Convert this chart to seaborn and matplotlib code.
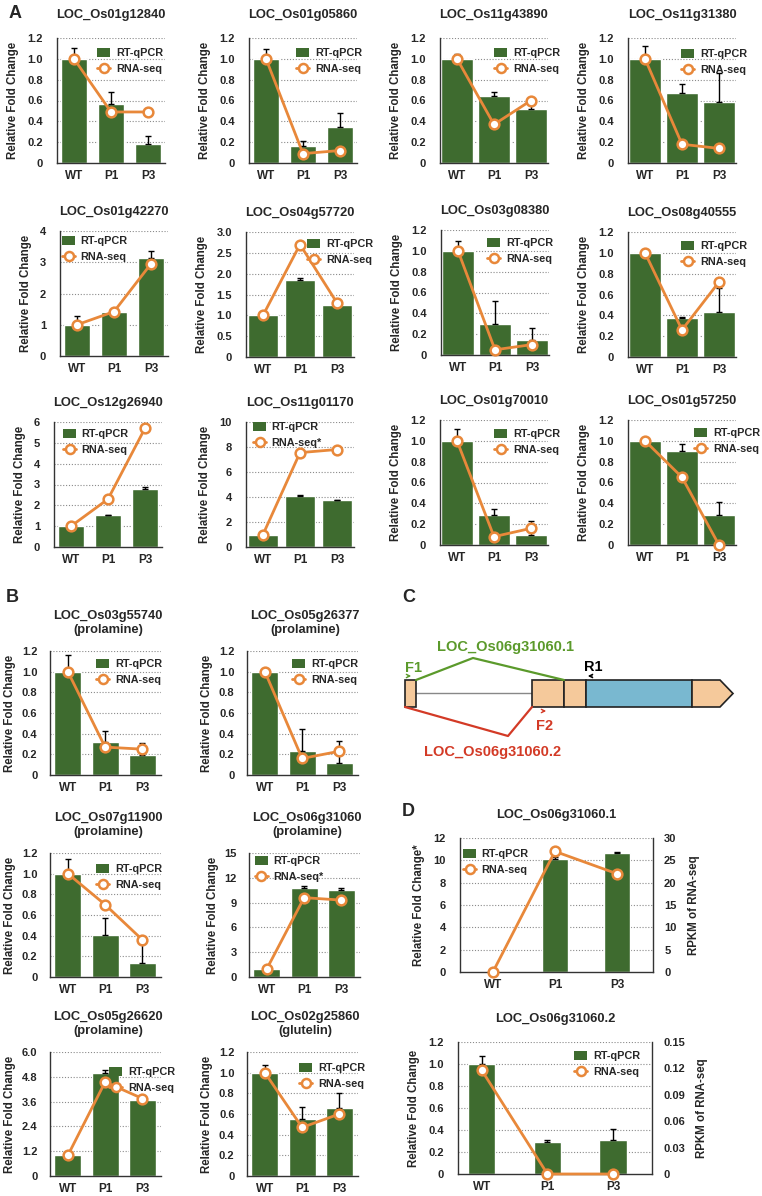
import numpy as np
import pandas as pd
import matplotlib
matplotlib.use('Agg')
import matplotlib.pyplot as plt
from matplotlib.patches import Patch, Rectangle, Polygon
from matplotlib.lines import Line2D
import seaborn as sns

sns.set_theme(style='white')
plt.rcParams['font.family'] = ['Liberation Sans', 'DejaVu Sans']
plt.rcParams['font.weight'] = 'bold'
plt.rcParams['axes.labelweight'] = 'bold'

# Data
# ======================================================================================
lines = ['WT', 'P1', 'P3']

titles_A = ['LOC_Os01g12840', 'LOC_Os01g05860', 'LOC_Os11g43890', 'LOC_Os11g31380',
            'LOC_Os01g42270', 'LOC_Os04g57720', 'LOC_Os03g08380', 'LOC_Os08g40555',
            'LOC_Os12g26940', 'LOC_Os11g01170', 'LOC_Os01g70010', 'LOC_Os01g57250']
qpcr_A = [[1.0, 0.57, 0.18], [1.0, 0.16, 0.35], [1.0, 0.64, 0.52], [1.0, 0.67, 0.59],
          [1.0, 1.42, 3.15], [1.0, 1.85, 1.25], [1.0, 0.30, 0.14], [1.0, 0.37, 0.43],
          [1.0, 1.52, 2.80], [1.0, 4.10, 3.75], [1.0, 0.29, 0.10], [1.0, 0.90, 0.29]]
err_A = [[0.10, 0.11, 0.08], [0.09, 0.05, 0.13], [0.05, 0.04, 0.05], [0.12, 0.09, 0.27],
         [0.28, 0.10, 0.20], [0.07, 0.05, 0.05], [0.09, 0.22, 0.12], [0.00, 0.01, 0.23],
         [0.03, 0.04, 0.08], [0.05, 0.07, 0.02], [0.11, 0.06, 0.13], [0.01, 0.07, 0.12]]
rnaseq_A = [[1.0, 0.49, 0.49], [1.0, 0.09, 0.12], [1.0, 0.37, 0.60], [1.0, 0.18, 0.14],
            [1.0, 1.42, 2.95], [1.0, 2.70, 1.30], [1.0, 0.05, 0.10], [1.0, 0.26, 0.72],
            [1.0, 2.30, 5.70], [1.0, 7.55, 7.80], [1.0, 0.08, 0.16], [1.0, 0.65, 0.00]]
yaxis_A = [(1.2, 0.2, 1), (1.2, 0.2, 1), (1.2, 0.2, 1), (1.2, 0.2, 1),
           (4, 1, 0), (3.0, 0.5, 1), (1.2, 0.2, 1), (1.2, 0.2, 1),
           (6, 1, 0), (10, 2, 0), (1.2, 0.2, 1), (1.2, 0.2, 1)]
rnalabel_A = ['RNA-seq'] * 9 + ['RNA-seq*', 'RNA-seq', 'RNA-seq']

titles_B = ['LOC_Os03g55740\n(prolamine)', 'LOC_Os05g26377\n(prolamine)',
            'LOC_Os07g11900\n(prolamine)', 'LOC_Os06g31060\n(prolamine)',
            'LOC_Os05g26620\n(prolamine)', 'LOC_Os02g25860\n(glutelin)']
qpcr_B = [[1.0, 0.32, 0.19], [1.0, 0.23, 0.12], [1.0, 0.41, 0.14],
          [1.0, 10.8, 10.5], [1.0, 5.0, 3.7], [1.0, 0.55, 0.66]]
err_B = [[0.16, 0.11, 0.12], [0.01, 0.22, 0.21], [0.14, 0.16, 0.25],
         [0.3, 0.25, 0.3], [0.08, 0.12, 0.05], [0.07, 0.12, 0.14]]
rnaseq_B = [[1.0, 0.27, 0.25], [1.0, 0.16, 0.23], [1.0, 0.70, 0.36],
            [1.0, 9.6, 9.3], [1.0, 4.55, 3.75], [1.0, 0.47, 0.60]]
yaxis_B = [(1.2, 0.2, 1), (1.2, 0.2, 1), (1.2, 0.2, 1), (15, 3, 0), (6.0, 1.2, 1), (1.2, 0.2, 1)]
rnalabel_B = ['RNA-seq', 'RNA-seq', 'RNA-seq', 'RNA-seq*', 'RNA-seq', 'RNA-seq']

titles_D = ['LOC_Os06g31060.1', 'LOC_Os06g31060.2']
qpcr_D = [[0.0, 10.1, 10.65], [1.0, 0.29, 0.31]]
err_D = [[0.0, 0.2, 0.1], [0.07, 0.02, 0.10]]
rpkm_D = [[0.0, 27.0, 22.0], [0.118, 0.0, 0.0]]
yaxis_D = [(12, 2, 0), (1.2, 0.2, 1)]
y2axis_D = [(30, 5, 0), (0.15, 0.03, 2)]
ylabel_D = ['Relative Fold Change*', 'Relative Fold Change']

# Layout (pixels: left, top, right, bottom) and legend anchors
# ======================================================================================
W, H = 762, 1196
GREEN = '#3e6b2f'
ORANGE = '#e8883a'
GRID = '#8a8a8a'

box_A = [(57, 38), (249, 38), (440, 38), (628, 38),
         (60, 231), (246, 232), (441, 230), (628, 232),
         (54, 422), (246, 422), (440, 420), (628, 420)]
barw_A = [0.7, 0.7, 0.86, 0.86, 0.7, 0.8, 0.86, 0.86, 0.7, 0.8, 0.86, 0.86]
title_off_A = [23] * 4 + [19] * 8
leg_A = [('upper right', 163, 52), ('upper right', 362, 52), ('upper right', 560, 52),
         ('upper right', 747, 53), ('upper left', 62, 240), ('upper right', 373, 243),
         ('upper right', 553, 242), ('upper right', 747, 245), ('upper left', 63, 433),
         ('upper left', 253, 426), ('upper right', 560, 433), ('upper right', 760, 432)]

box_B = [(50, 651), (247, 651), (50, 853), (249, 853), (50, 1052), (247, 1052)]
leg_B = [('upper right', 162, 663), ('upper right', 358, 663), ('upper right', 162, 868),
         ('upper left', 255, 860), ('upper right', 175, 1071), ('upper right', 365, 1067)]

box_D = [(460, 838, 653, 972), (458, 1042, 652, 1174)]
xlim_D = [(-0.53, 2.58), (-0.36, 2.59)]
leg_D = [('upper left', 463, 853), ('upper right', 640, 1055)]

fig = plt.figure(figsize=(W / 100, H / 100), dpi=100)


def px_axes(left, top, right, bottom):
    return fig.add_axes([left / W, 1 - bottom / H, (right - left) / W, (bottom - top) / H])


def fig_text(x, y, s, **kw):
    return fig.text(x / W, 1 - y / H, s, **kw)


def tick_labels(top, step, dec):
    ticks = np.round(np.arange(0, top + step / 2, step), 4)
    labels = ['0' if t == 0 else f'{t:.{dec}f}' for t in ticks]
    return ticks, labels


def style_axis(ax, ticks, labels, ypad=10):
    ax.set_ylim(ticks[0], ticks[-1])
    ax.set_yticks(ticks)
    ax.set_yticklabels(labels, fontsize=8, fontweight='bold')
    for t in ticks[1:]:
        ax.axhline(t, color=GRID, lw=0.8, ls=(0, (1, 1.6)), zorder=0.5)
    for s in ['top', 'right']:
        ax.spines[s].set_visible(False)
    for s in ['left', 'bottom']:
        ax.spines[s].set_color('#333333')
        ax.spines[s].set_linewidth(1)
    ax.tick_params(axis='y', length=0, pad=ypad)
    ax.tick_params(axis='x', length=0, pad=5, labelsize=8.5)
    for lab in ax.get_xticklabels():
        lab.set_fontweight('bold')
    ax.set_xlabel('')


def add_legend(ax, box, leg, rna_label):
    loc, lx, ly = leg
    left, top, right, bottom = box
    handles = [Patch(facecolor=GREEN, edgecolor='none'),
               Line2D([], [], color=ORANGE, lw=2, marker='o', ms=6.5, mfc='white', mec=ORANGE, mew=1.8)]
    ax_x = (lx - left) / (right - left)
    ax_y = 1 - (ly - 4 - top) / (bottom - top)
    ax.legend(handles, ['RT-qPCR', rna_label], loc=loc, bbox_to_anchor=(ax_x, ax_y),
              frameon=False, handlelength=1.2, handleheight=0.9,
              handletextpad=0.5, labelspacing=0.5, borderpad=0, borderaxespad=0,
              prop={'weight': 'bold', 'size': 7.8})


def bar_line_panel(ax, qpcr, err, rna, bar_w, rna_ax=None):
    df = pd.DataFrame({'line': lines, 'fold': qpcr})
    sns.barplot(data=df, x='line', y='fold', color=GREEN, saturation=1, width=bar_w,
                errorbar=None, ax=ax, zorder=2)
    x = np.arange(len(lines))
    ax.errorbar(x, qpcr, yerr=[np.zeros(len(err)), err], fmt='none', ecolor='black',
                elinewidth=1, capsize=2.5, capthick=1, zorder=3)
    target = ax if rna_ax is None else rna_ax
    target.plot(x, rna, color=ORANGE, lw=2, marker='o', ms=7, mfc='white', mec=ORANGE,
                mew=1.8, zorder=4, clip_on=False)


# Panel A
for i in range(12):
    left, top = box_A[i]
    box = (left, top, left + 108, top + 125)
    ax = px_axes(*box)
    bar_line_panel(ax, qpcr_A[i], err_A[i], rnaseq_A[i], barw_A[i])
    ticks, labels = tick_labels(*yaxis_A[i])
    style_axis(ax, ticks, labels)
    ax.set_xlim(-0.46, 2.46)
    ax.set_ylabel('Relative Fold Change', fontsize=8.3, fontweight='bold', labelpad=6)
    add_legend(ax, box, leg_A[i], rnalabel_A[i])
    fig_text(left + 54, top - title_off_A[i], titles_A[i], ha='center', va='center',
             fontsize=9.3, fontweight='bold')

# Panel B
for i in range(6):
    left, top = box_B[i]
    box = (left, top, left + 111, top + 124)
    ax = px_axes(*box)
    bar_line_panel(ax, qpcr_B[i], err_B[i], rnaseq_B[i], 0.72)
    ticks, labels = tick_labels(*yaxis_B[i])
    style_axis(ax, ticks, labels, ypad=9)
    ax.set_xlim(-0.48, 2.5)
    ax.set_ylabel('Relative Fold Change', fontsize=8.3, fontweight='bold', labelpad=4)
    add_legend(ax, box, leg_B[i], rnalabel_B[i])
    fig_text(left + 58, top - 28, titles_B[i], ha='center', va='center',
             fontsize=9.3, fontweight='bold', linespacing=1.3)

# Panel D
for i in range(2):
    box = box_D[i]
    ax = px_axes(*box)
    ax2 = ax.twinx()
    bar_line_panel(ax, qpcr_D[i], err_D[i], rpkm_D[i], 0.42, rna_ax=ax2)
    ticks, labels = tick_labels(*yaxis_D[i])
    style_axis(ax, ticks, labels)
    ax.set_xlim(*xlim_D[i])
    ax.set_ylabel(ylabel_D[i], fontsize=8.3, fontweight='bold', labelpad=6)
    t2, l2 = tick_labels(*y2axis_D[i])
    ax2.set_ylim(t2[0], t2[-1])
    ax2.set_yticks(t2)
    ax2.set_yticklabels(l2, fontsize=8, fontweight='bold')
    ax2.tick_params(axis='y', length=0, pad=8)
    ax2.spines['top'].set_visible(False)
    ax2.spines['left'].set_visible(False)
    ax2.spines['bottom'].set_visible(False)
    ax2.spines['right'].set_color('#333333')
    ax2.spines['right'].set_linewidth(1)
    ax2.set_ylabel('RPKM of RNA-seq', fontsize=8.3, fontweight='bold', labelpad=8)
    ax2.grid(False)
    add_legend(ax2, box, leg_D[i], 'RNA-seq')
    fig_text((box[0] + box[2]) / 2, box[1] - 23, titles_D[i], ha='center', va='center',
             fontsize=9.3, fontweight='bold')

# Panel C: transcript structure diagram
BEIGE = '#f5c99b'
BLUE = '#79b8d0'
C_GREEN = '#5b9a2b'
C_RED = '#d33a26'
axc = px_axes(395, 615, 750, 770)
axc.set_xlim(395, 750)
axc.set_ylim(770, 615)
axc.axis('off')
axc.plot([416, 532], [693, 693], color='#888888', lw=1, zorder=1)
for x0, w, c in [(405, 11, BEIGE), (532, 32, BEIGE), (564, 22, BEIGE), (586, 106, BLUE)]:
    axc.add_patch(Rectangle((x0, 680), w, 27, facecolor=c, edgecolor='#222222', lw=1.2, zorder=2))
axc.add_patch(Polygon([(692, 680), (720, 680), (733, 693.5), (720, 707), (692, 707)],
                      closed=True, facecolor=BEIGE, edgecolor='#222222', lw=1.2, zorder=2))
axc.plot([416, 473, 564], [680, 658, 680], color=C_GREEN, lw=1.6, zorder=3)
axc.plot([405, 508, 532], [707, 736, 707], color=C_RED, lw=1.6, zorder=3)
axc.annotate('', xy=(414, 676), xytext=(405, 676),
             arrowprops=dict(arrowstyle='->', color=C_GREEN, lw=1, mutation_scale=6))
axc.annotate('', xy=(585, 676), xytext=(595, 676),
             arrowprops=dict(arrowstyle='->', color='black', lw=1, mutation_scale=6))
axc.annotate('', xy=(549, 711), xytext=(540, 711),
             arrowprops=dict(arrowstyle='->', color=C_RED, lw=1, mutation_scale=6))
axc.text(505, 647, 'LOC_Os06g31060.1', color=C_GREEN, fontsize=10.5, fontweight='bold',
         ha='center', va='center')
axc.text(493, 752, 'LOC_Os06g31060.2', color=C_RED, fontsize=10.5, fontweight='bold',
         ha='center', va='center')
axc.text(413, 668, 'F1', color=C_GREEN, fontsize=10.5, fontweight='bold', ha='center', va='center')
axc.text(593, 667, 'R1', color='black', fontsize=10.5, fontweight='bold', ha='center', va='center')
axc.text(545, 726, 'F2', color=C_RED, fontsize=10.5, fontweight='bold', ha='center', va='center')

# Panel letters
for letter, x, y in [('A', 15, 14), ('B', 12, 598), ('C', 409, 598), ('D', 408, 811)]:
    fig_text(x, y, letter, ha='center', va='center', fontsize=13, fontweight='bold')

fig.savefig('out.png', dpi=100)
